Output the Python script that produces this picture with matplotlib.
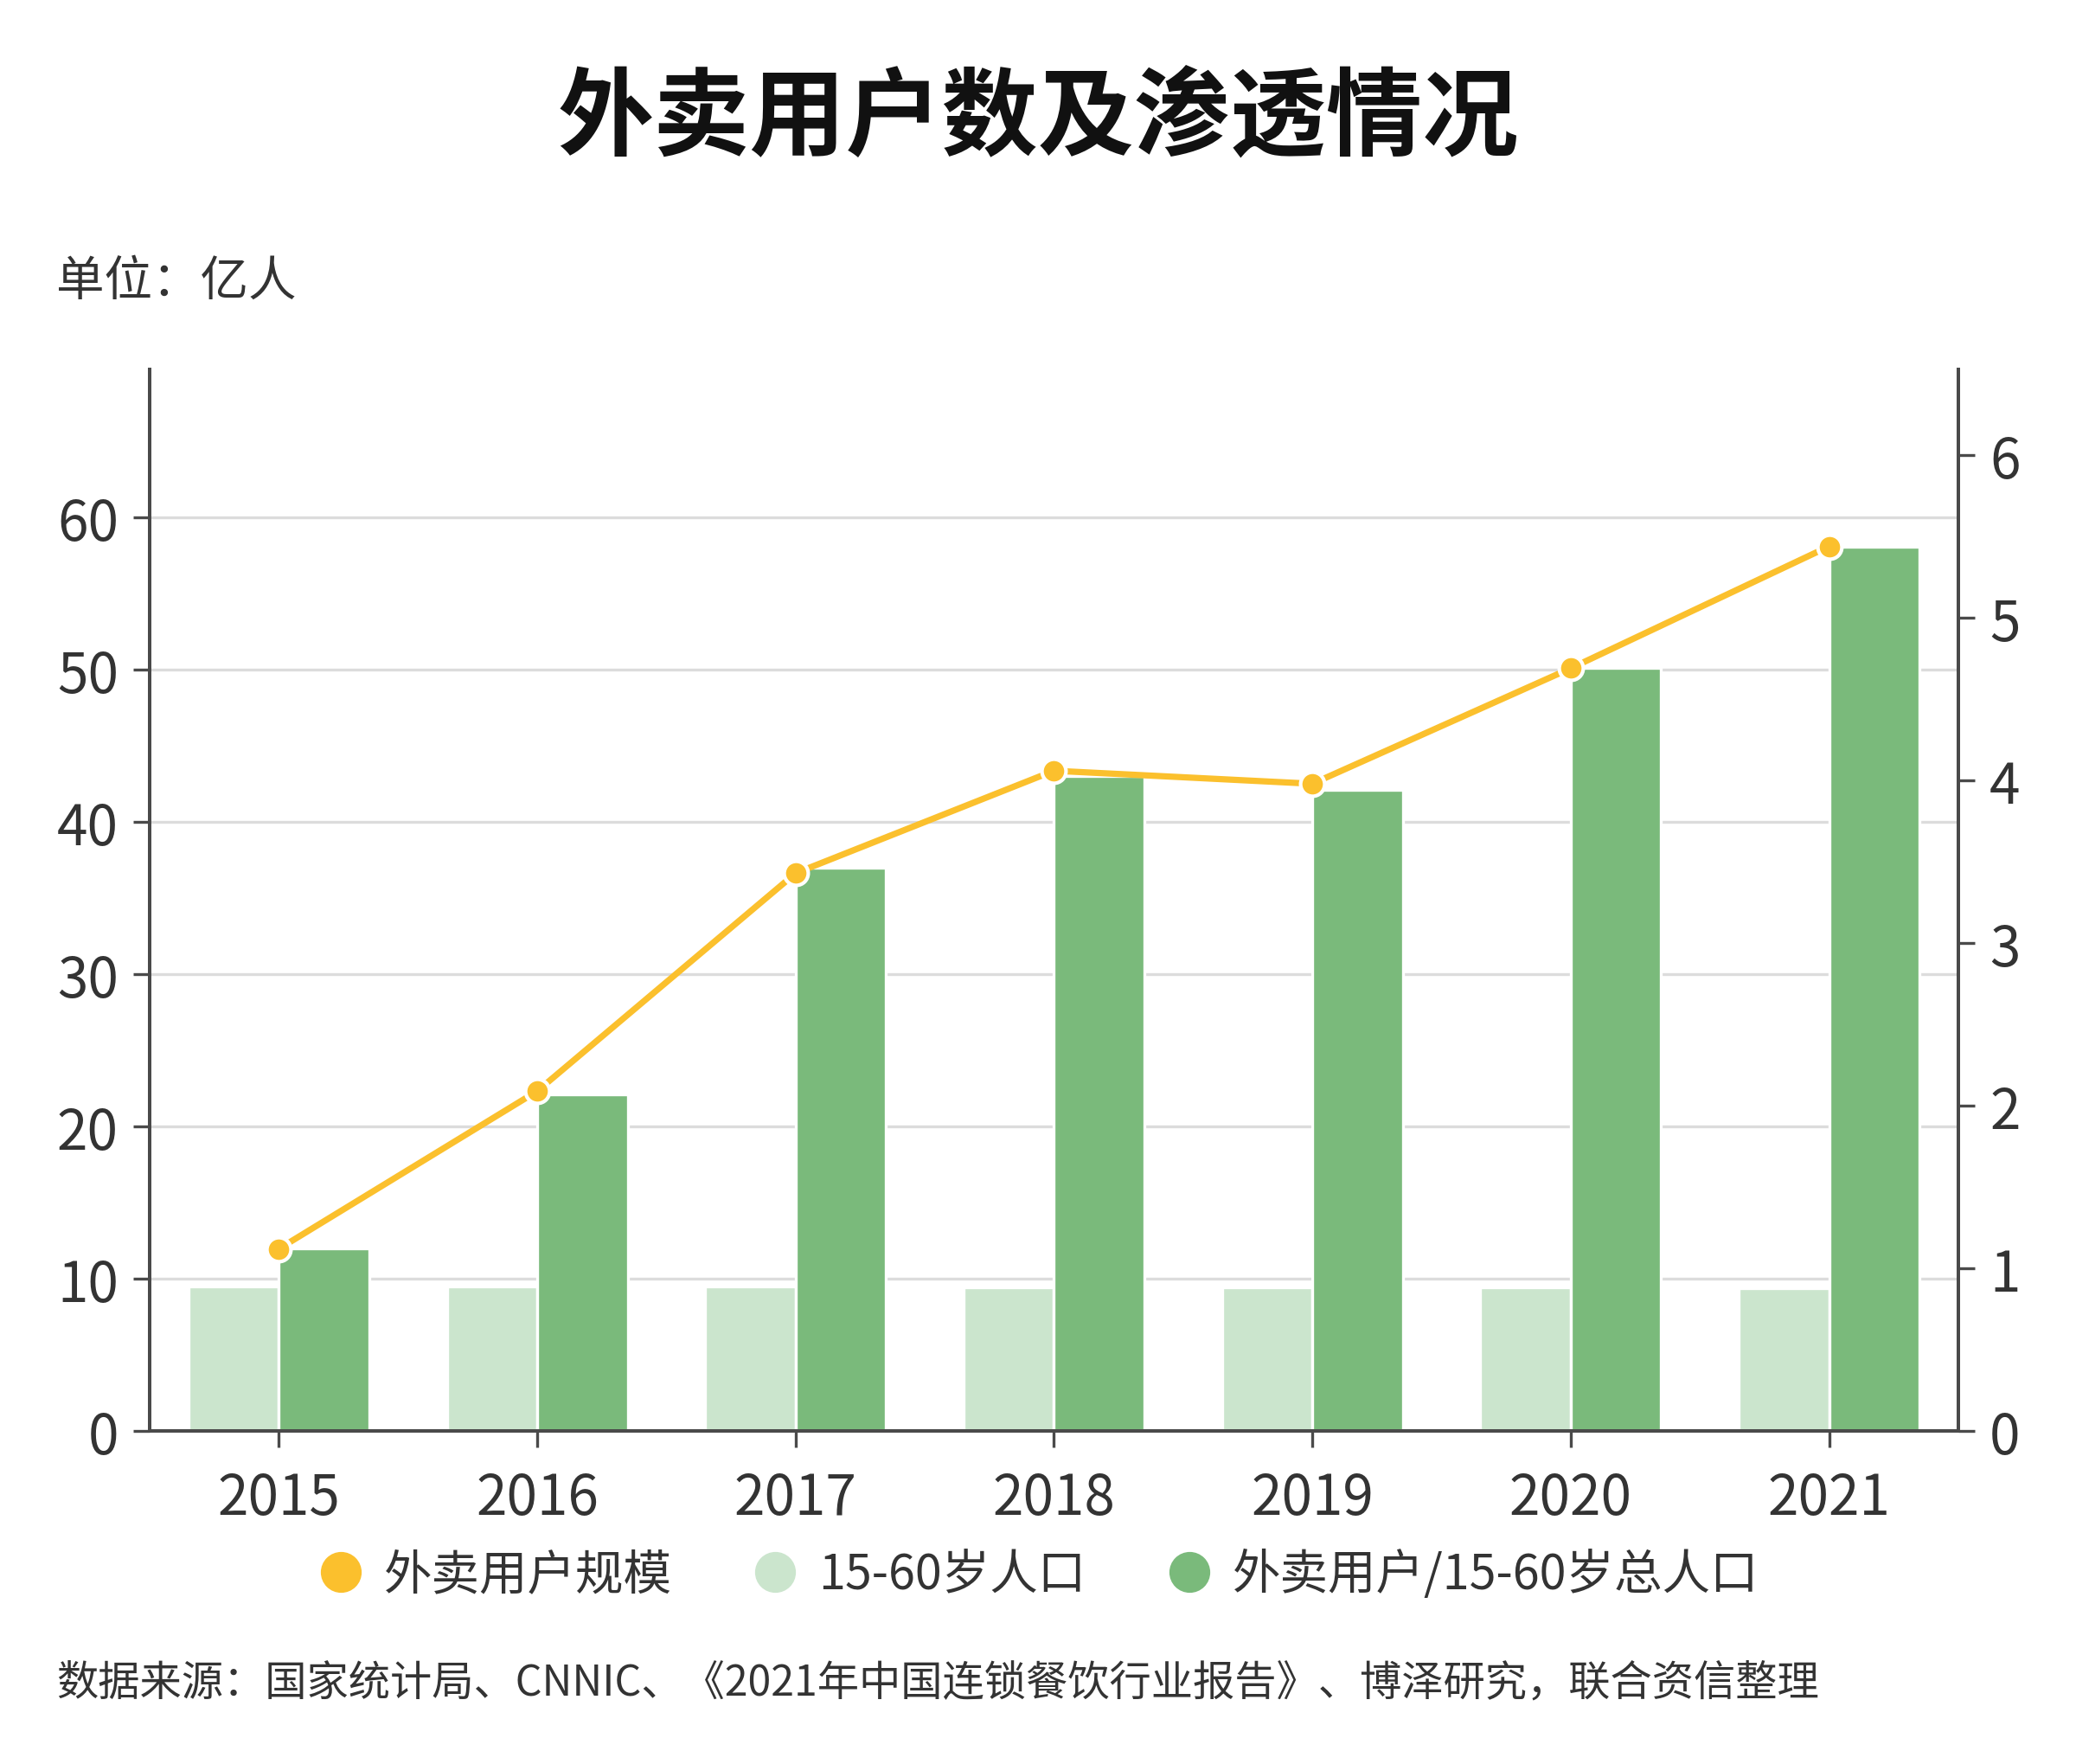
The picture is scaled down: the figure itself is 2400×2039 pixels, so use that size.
import numpy as np
import matplotlib.pyplot as plt
from matplotlib.lines import Line2D

plt.rcParams['font.family'] = ['Noto Sans CJK SC', 'DejaVu Sans']

years = ['2015', '2016', '2017', '2018', '2019', '2020', '2021']
users = [1.12, 2.09, 3.43, 4.06, 3.98, 4.69, 5.44]          # 外卖用户规模 (亿人, right axis)
population = [9.49, 9.49, 9.48, 9.46, 9.44, 9.42, 9.38]     # 15-60岁人口 (亿人)
penetration = [12.0, 22.1, 37.0, 43.0, 42.1, 50.1, 58.1]   # 外卖用户/15-60岁总人口 (%)

c_line = '#fbc02d'
c_light = '#cbe5cd'
c_dark = '#7aba7b'
c_axis = '#4a4a4a'
c_text = '#333333'

fig = plt.figure(figsize=(12, 10.2), dpi=200)
ax = fig.add_axes([0.0721, 0.1887, 0.8712, 0.6015])

x = np.arange(len(years))
w = 0.35
ax.bar(x - w / 2, population, w, color=c_light, edgecolor='white', lw=1.2, zorder=2)
ax.bar(x + w / 2, penetration, w, color=c_dark, edgecolor='white', lw=1.2, zorder=2)

ax.set_xlim(-0.5, 6.5)
ax.set_ylim(0, max(penetration) * 1.2)
ax.set_yticks(range(0, 61, 10))
ax.set_xticks(x)
ax.set_xticklabels(years)
ax.yaxis.grid(True, color='#dcdcdc', lw=1.2, zorder=0)
ax.set_axisbelow(True)

ax2 = ax.twinx()
ax2.plot(x, users, '-o', color=c_line, lw=2.6, ms=10, mec='white', mew=1.5, zorder=5)
ax2.set_ylim(0, max(users) * 1.2)
ax2.set_yticks(range(0, 7))

for a in (ax, ax2):
    a.spines['top'].set_visible(False)
    for s in ('left', 'right', 'bottom'):
        a.spines[s].set_color(c_axis)
        a.spines[s].set_linewidth(1.4)
    a.tick_params(colors=c_axis, labelcolor=c_text, labelsize=23, length=7, width=1.2)
ax.tick_params(axis='x', pad=9)
ax.tick_params(axis='y', pad=6)
ax2.tick_params(axis='y', pad=6)

fig.text(0.5, 0.932, '外卖用户数及渗透情况', ha='center', va='center',
         fontsize=40, fontweight='black', color='#111111')
fig.text(0.027, 0.84, '单位：亿人', ha='left', va='center', fontsize=20, color=c_text)

handles = [Line2D([], [], ls='', marker='o', ms=16, color=c) for c in (c_line, c_light, c_dark)]
labels = ['外卖用户规模', '15-60岁人口', '外卖用户/15-60岁总人口']
fig.legend(handles, labels, loc='center', bbox_to_anchor=(0.494, 0.107), ncol=3,
           frameon=False, fontsize=20, handletextpad=-0.1, columnspacing=1.15,
           labelcolor=c_text)

fig.text(0.027, 0.046, '数据来源：国家统计局、CNNIC、《2021年中国连锁餐饮行业报告》、博泽研究，联合资信整理',
         ha='left', va='center', fontsize=17.4, color=c_text)

fig.savefig('out.png', dpi=200)
